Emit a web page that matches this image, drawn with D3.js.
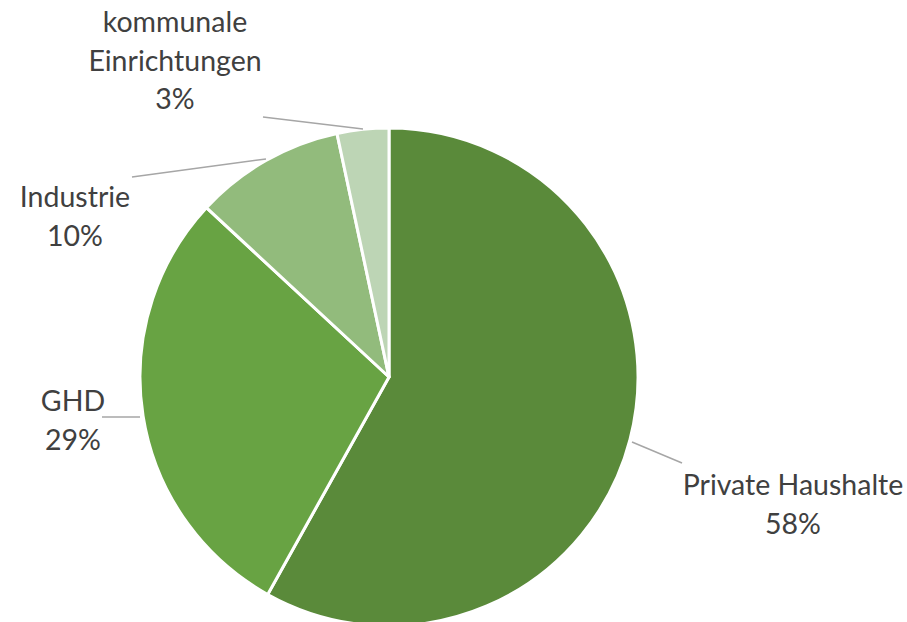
<!DOCTYPE html>
<html><head><meta charset="utf-8">
<script src="https://cdn.jsdelivr.net/npm/d3@7"></script>
<style>body{margin:0;background:#fff;} svg{display:block;}</style>
</head><body>
<svg id="c" width="907" height="622"></svg>
<script>
const categories = ["Private Haushalte", "GHD", "Industrie", "kommunale Einrichtungen"];
const values = [58.1, 28.8, 9.75, 3.35];
const labelLines = [["Private Haushalte", "58%"], ["GHD", "29%"], ["Industrie", "10%"], ["kommunale", "Einrichtungen", "3%"]];
const colors = ["#5a8a3a", "#68a343", "#92bb7c", "#bdd5b5"];

const svg = d3.select("#c");
const cx = 389, cy = 377, r = 249;
const g = svg.append("g").attr("transform", `translate(${cx},${cy})`);
const pie = d3.pie().sort(null).value(d => d)(values);
const arc = d3.arc().innerRadius(0).outerRadius(r);
g.selectAll("path").data(pie).join("path")
  .attr("d", arc).attr("fill", (d, i) => colors[i])
  .attr("stroke", "#fff").attr("stroke-width", 3).attr("stroke-linejoin", "round");

// label placement (centre x, first baseline y) and leader lines
const labelPos = [[793, 495], [73, 411], [75, 207], [175, 32]];
const leaderEnds = [[[632, 442], [682, 463]], [[140, 417], [102, 417]], [[266, 159], [132, 177]], [[363, 129], [263, 117]]];
leaderEnds.forEach(p => {
  svg.append("path").attr("d", d3.line()(p)).attr("stroke", "#a6a6a6").attr("stroke-width", 1.5).attr("fill", "none");
});
labelLines.forEach((lines, i) => {
  const t = svg.append("text").attr("text-anchor", "middle")
    .attr("font-family", "Lato, 'Open Sans', sans-serif").attr("font-size", 28.5).attr("fill", "#404040");
  lines.forEach((l, j) => t.append("tspan").attr("x", labelPos[i][0]).attr("y", labelPos[i][1] + j * 38.5).text(l));
});
</script>
</body></html>
